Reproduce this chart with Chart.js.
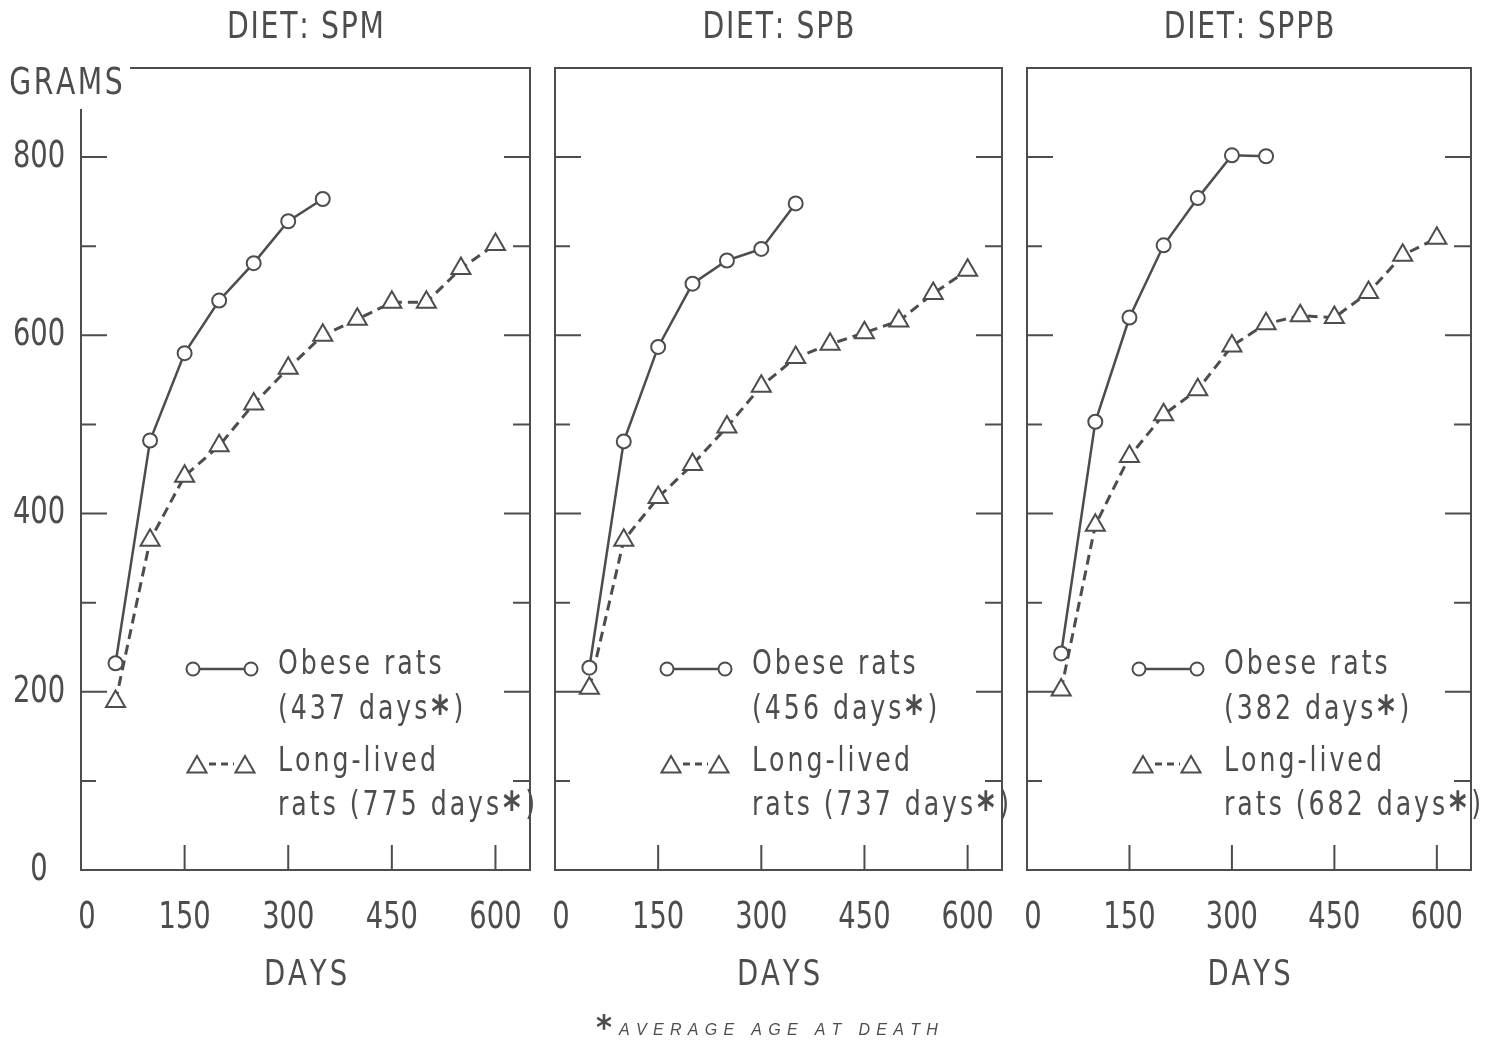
<!DOCTYPE html>
<html>
<head>
<meta charset="utf-8">
<script src="https://cdn.jsdelivr.net/npm/chart.js@4.4.0/dist/chart.umd.min.js"></script>
<style>
  body { margin: 0; background: #fff; }
  #wrap { position: relative; width: 1490px; height: 1041px; }
  canvas { position: absolute; left: 0; top: 0; }
</style>
</head>
<body>
<div id="wrap">
  <canvas id="c0" width="1490" height="1041"></canvas>
  <canvas id="c1" width="1490" height="1041"></canvas>
  <canvas id="c2" width="1490" height="1041"></canvas>
</div>
<script>
// data
const diets = ['SPM', 'SPB', 'SPPB'];
const obeseDays = [50, 100, 150, 200, 250, 300, 350];
const longDays = [50, 100, 150, 200, 250, 300, 350, 400, 450, 500, 550, 600];

const obeseSPM = [232, 482, 580, 639, 681, 728, 753];
const longSPM = [189, 370, 442, 476, 523, 563, 600, 618, 637, 637, 675, 702];
const obeseSPB = [227, 481, 587, 658, 684, 697, 748];
const longSPB = [204, 370, 418, 455, 497, 543, 575, 590, 603, 616, 647, 673];
const obeseSPPB = [243, 503, 620, 701, 754, 802, 801];
const longSPPB = [202, 387, 464, 511, 539, 588, 613, 622, 620, 648, 690, 709];

const obeseAge = [437, 456, 382];
const longAge = [775, 737, 682];

const xTickValues = [0, 150, 300, 450, 600];
const yMinorTicks = [100, 300, 500, 700];
const yMajorTicks = [200, 400, 600, 800];
const yTickLabels = [0, 200, 400, 600, 800];

const obeseSeries = [obeseSPM, obeseSPB, obeseSPPB];
const longSeries = [longSPM, longSPB, longSPPB];

// layout
const panelLeft = [81, 555, 1027];
const panelRight = [530, 1002, 1471];
const plotTop = 68;
const plotBottom = 870;

const ink = '#4d4d4d';
const FONT = '"DejaVu Sans Condensed", "DejaVu Sans", sans-serif';

// squeezed + letter-spaced text, char by char (the original face is narrow and airy)
function spaced(ctx, s, x, y, font, align, sx, ls, starFont) {
    ctx.save();
    ctx.textAlign = 'left';
    ctx.textBaseline = 'middle';
    const chars = [...s];
    const widths = chars.map(ch => {
        ctx.font = (ch === '*' && starFont) ? starFont : font;
        return ctx.measureText(ch).width + (ch === '*' && starFont ? 3 : 0);
    });
    const total = widths.reduce((p, q) => p + q, 0) + ls * (chars.length - 1);
    let cx = align === 'center' ? -total / 2 : (align === 'right' ? -total : 0);
    ctx.translate(x, y);
    ctx.scale(sx, 1);
    chars.forEach((ch, k) => {
        if (ch === '*' && starFont) {
            ctx.font = starFont;
            ctx.fillText(ch, cx + 1, 6);
        } else {
            ctx.font = font;
            ctx.fillText(ch, cx, 0);
        }
        cx += widths[k] + ls;
    });
    ctx.restore();
}

function drawMarker(ctx, ds, x, y, r) {
    ctx.save();
    ctx.fillStyle = '#fff';
    ctx.strokeStyle = ds.borderColor;
    ctx.lineWidth = ds.pointBorderWidth;
    Chart.helpers.drawPoint(ctx, {pointStyle: ds.pointStyle, radius: r, borderWidth: ds.pointBorderWidth, rotation: 0}, x, y);
    ctx.restore();
}

const panelPlugin = {
    id: 'panel',
    beforeDatasetsDraw(chart, args, opts) {
        const ctx = chart.ctx;
        const a = chart.chartArea;
        const xs = chart.scales.x, ys = chart.scales.y;
        ctx.save();
        ctx.strokeStyle = ink;
        ctx.lineWidth = 2;
        // frame
        ctx.beginPath();
        if (opts.index === 0) {
            ctx.moveTo(a.left + 49, a.top);
            ctx.lineTo(a.right, a.top);
            ctx.lineTo(a.right, a.bottom);
            ctx.lineTo(a.left, a.bottom);
            ctx.lineTo(a.left, a.top + 41);
        } else {
            ctx.rect(a.left, a.top, a.right - a.left, a.bottom - a.top);
        }
        ctx.stroke();
        // inward ticks
        ctx.beginPath();
        xTickValues.slice(1).forEach(v => {
            const px = xs.getPixelForValue(v);
            ctx.moveTo(px, a.bottom);
            ctx.lineTo(px, a.bottom - 25);
        });
        yMajorTicks.forEach(v => {
            const py = ys.getPixelForValue(v);
            ctx.moveTo(a.left, py); ctx.lineTo(a.left + 26, py);
            ctx.moveTo(a.right, py); ctx.lineTo(a.right - 26, py);
        });
        yMinorTicks.forEach(v => {
            const py = ys.getPixelForValue(v);
            ctx.moveTo(a.left, py); ctx.lineTo(a.left + 15, py);
            ctx.moveTo(a.right, py); ctx.lineTo(a.right - 17, py);
        });
        ctx.stroke();
        ctx.restore();
    },
    afterDraw(chart, args, opts) {
        const ctx = chart.ctx;
        const a = chart.chartArea;
        const xs = chart.scales.x, ys = chart.scales.y;
        const i = opts.index;
        const cx = (a.left + a.right) / 2;
        ctx.save();
        ctx.fillStyle = ink;

        spaced(ctx, 'DIET: ' + diets[i], cx, 28, '37px ' + FONT, 'center', 0.85, 2);

        xTickValues.forEach(v => {
            const px = xs.getPixelForValue(v) + (v === 0 ? 6 : 0);
            spaced(ctx, String(v), px, a.bottom + 48, '38px ' + FONT, 'center', 0.8, 0);
        });
        spaced(ctx, 'DAYS', cx, a.bottom + 106, '36px ' + FONT, 'center', 0.85, 3.5);

        if (i === 0) {
            yTickLabels.forEach(v => {
                spaced(ctx, String(v), a.left - 42, ys.getPixelForValue(v), '38px ' + FONT, 'center', 0.8, 0);
            });
            spaced(ctx, 'GRAMS', 66, 84, '37px ' + FONT, 'center', 0.85, 3);
        }

        // legend
        const o = chart.data.datasets[0], l = chart.data.datasets[1];
        ctx.strokeStyle = ink;
        ctx.lineWidth = o.borderWidth;
        ctx.beginPath();
        ctx.moveTo(a.left + 112, a.bottom - 201);
        ctx.lineTo(a.left + 170, a.bottom - 201);
        ctx.stroke();
        drawMarker(ctx, o, a.left + 112, a.bottom - 201, 6.5);
        drawMarker(ctx, o, a.left + 170, a.bottom - 201, 6.5);
        ctx.lineWidth = 3;
        ctx.setLineDash([7, 5]);
        ctx.beginPath();
        ctx.moveTo(a.left + 128, a.bottom - 106);
        ctx.lineTo(a.left + 153, a.bottom - 106);
        ctx.stroke();
        ctx.setLineDash([]);
        drawMarker(ctx, l, a.left + 116, a.bottom - 103, 11);
        drawMarker(ctx, l, a.left + 164, a.bottom - 103, 11);

        const tx = a.left + 197;
        const lf = '33px ' + FONT, sf = 'bold 44px ' + FONT;
        spaced(ctx, 'Obese rats', tx, a.bottom - 205, lf, 'left', 0.85, 3.5, sf);
        spaced(ctx, '(' + obeseAge[i] + ' days*)', tx, a.bottom - 160, lf, 'left', 0.85, 3.5, sf);
        spaced(ctx, 'Long-lived', tx, a.bottom - 108, lf, 'left', 0.85, 3.5, sf);
        spaced(ctx, 'rats (' + longAge[i] + ' days*)', tx, a.bottom - 64, lf, 'left', 0.85, 3.5, sf);

        // footnote
        if (i === 1) {
            spaced(ctx, '*', 596, 1030, 'bold 34px ' + FONT, 'left', 1, 0);
            spaced(ctx, 'AVERAGE AGE AT DEATH', 619, 1031, 'italic 16px "Liberation Sans", sans-serif', 'left', 1, 6.3);
        }
        ctx.restore();
    }
};

function toPoints(days, vals) {
    return days.map((d, k) => ({x: d, y: vals[k]}));
}

for (let i = 0; i < 3; i++) {
    new Chart(document.getElementById('c' + i), {
        type: 'line',
        data: {
            datasets: [{
                label: 'Obese rats',
                data: toPoints(obeseDays, obeseSeries[i]),
                borderColor: ink,
                borderWidth: 2.5,
                pointStyle: 'circle',
                pointRadius: 7,
                pointBorderWidth: 2,
                pointBackgroundColor: '#fff',
                pointBorderColor: ink,
                tension: 0
            }, {
                label: 'Long-lived rats',
                data: toPoints(longDays, longSeries[i]),
                borderColor: ink,
                borderWidth: 3,
                borderDash: [10, 6],
                pointStyle: 'triangle',
                pointRadius: 11,
                pointBorderWidth: 2,
                pointBackgroundColor: '#fff',
                pointBorderColor: ink,
                tension: 0
            }]
        },
        options: {
            responsive: false,
            animation: false,
            layout: {
                padding: {left: panelLeft[i], right: 1490 - panelRight[i], top: plotTop, bottom: 1041 - plotBottom}
            },
            scales: {
                x: {type: 'linear', min: 0, max: 650, display: false},
                y: {type: 'linear', min: 0, max: 900, display: false}
            },
            plugins: {
                legend: {display: false},
                tooltip: {enabled: false},
                panel: {index: i}
            }
        },
        plugins: [panelPlugin]
    });
}
</script>
</body>
</html>
